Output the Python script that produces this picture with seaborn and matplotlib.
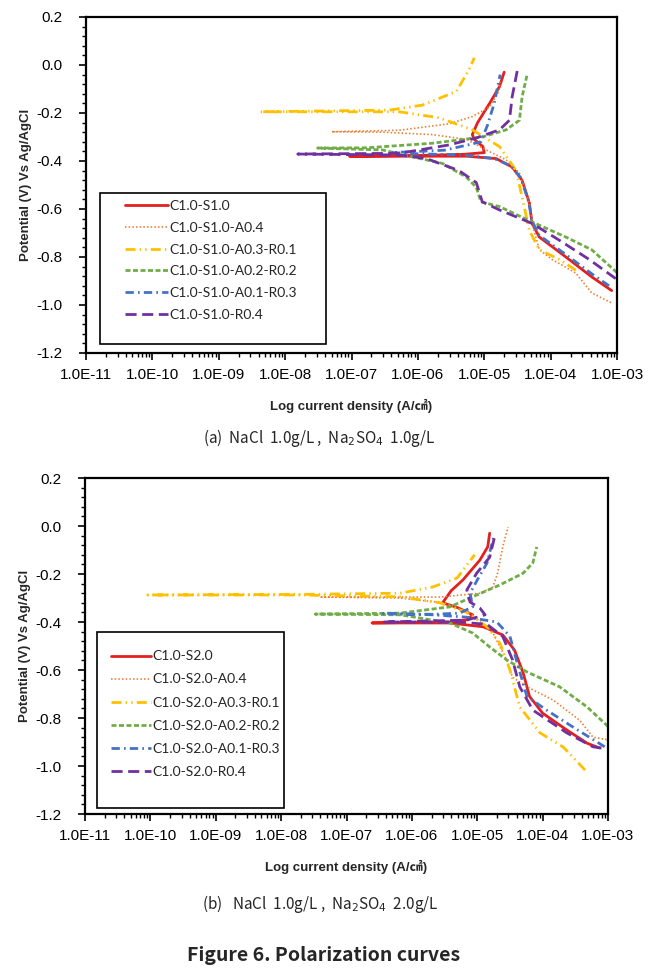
import numpy as np
import pandas as pd
import matplotlib
matplotlib.use("Agg")
import matplotlib.pyplot as plt
import matplotlib.ticker as mticker
from matplotlib.patches import Rectangle
import seaborn as sns

# Polarization curves: log10 of current density (A/cm2) and potential (V vs Ag/AgCl)
# each path runs from the cathodic end, through Ecorr, up the anodic branch

# (a) NaCl 1.0g/L, Na2SO4 1.0g/L
a_labels = ["C1.0-S1.0", "C1.0-S1.0-A0.4", "C1.0-S1.0-A0.3-R0.1",
            "C1.0-S1.0-A0.2-R0.2", "C1.0-S1.0-A0.1-R0.3", "C1.0-S1.0-R0.4"]

a_red_logi = [-3.08, -3.38, -3.77, -4.17, -4.28, -4.32, -4.43, -4.58, -4.82, -5.27, -6.28, -7.03,
              -6.0, -5.3, -5.0, -5.02, -5.15, -5.18, -5.10, -4.92, -4.77, -4.70]
a_red_pot = [-0.94, -0.883, -0.80, -0.717, -0.66, -0.575, -0.48, -0.425, -0.39, -0.38, -0.38, -0.38,
             -0.377, -0.372, -0.365, -0.34, -0.31, -0.29, -0.24, -0.16, -0.09, -0.03]

a_orange_logi = [-3.09, -3.38, -3.62, -3.98, -4.17, -4.25, -4.32, -4.47, -4.67, -4.97, -5.27, -5.78,
                 -6.53, -7.30, -6.28, -5.53, -5.18, -4.92, -4.78, -4.76]
a_orange_pot = [-0.99, -0.95, -0.867, -0.81, -0.77, -0.69, -0.575, -0.45, -0.395, -0.354, -0.31, -0.29,
                -0.28, -0.278, -0.272, -0.245, -0.215, -0.175, -0.11, -0.07]

a_yellow_logi = [-3.62, -3.87, -4.17, -4.32, -4.43, -4.52, -4.77, -5.18, -5.68, -6.28, -8.38,
                 -6.43, -5.93, -5.42, -5.23, -5.15]
a_yellow_pot = [-0.855, -0.81, -0.77, -0.69, -0.55, -0.44, -0.34, -0.27, -0.22, -0.195, -0.195,
                -0.188, -0.167, -0.11, -0.02, 0.03]

a_green_logi = [-3.00, -3.38, -3.77, -4.28, -4.77, -5.05, -5.12, -5.27, -5.63, -6.08, -6.53, -7.51,
                -6.77, -5.78, -5.03, -4.67, -4.47, -4.43, -4.35]
a_green_pot = [-0.865, -0.77, -0.717, -0.654, -0.59, -0.57, -0.51, -0.467, -0.41, -0.383, -0.354, -0.346,
               -0.345, -0.326, -0.30, -0.27, -0.23, -0.133, -0.035]

a_blue_logi = [-3.12, -3.38, -3.77, -4.17, -4.28, -4.33, -4.45, -4.6, -4.85, -5.3, -6.0, -6.4,
               -5.6, -5.2, -5.05, -4.95, -4.85, -4.76]
a_blue_pot = [-0.92, -0.87, -0.79, -0.71, -0.65, -0.57, -0.47, -0.42, -0.39, -0.375, -0.37, -0.365,
              -0.355, -0.33, -0.32, -0.25, -0.16, -0.04]

a_purple_logi = [-3.02, -3.42, -3.87, -4.28, -4.77, -5.03, -5.12, -5.38, -5.87, -6.28, -7.81,
                 -6.28, -5.53, -5.12, -4.77, -4.62, -4.58, -4.50]
a_purple_pot = [-0.89, -0.81, -0.73, -0.66, -0.604, -0.57, -0.49, -0.44, -0.39, -0.375, -0.371,
                -0.368, -0.333, -0.304, -0.27, -0.23, -0.133, -0.02]

# (b) NaCl 1.0g/L, Na2SO4 2.0g/L
b_labels = ["C1.0-S2.0", "C1.0-S2.0-A0.4", "C1.0-S2.0-A0.3-R0.1",
            "C1.0-S2.0-A0.2-R0.2", "C1.0-S2.0-A0.1-R0.3", "C1.0-S2.0-R0.4"]

b_red_logi = [-3.13, -3.32, -3.63, -4.00, -4.20, -4.30, -4.43, -4.61, -4.91, -5.42, -6.61,
              -5.42, -5.15, -5.07, -5.30, -5.53, -5.40, -5.22, -4.96, -4.84, -4.81]
b_red_pot = [-0.925, -0.905, -0.85, -0.78, -0.71, -0.61, -0.517, -0.454, -0.42, -0.404, -0.404,
             -0.400, -0.39, -0.37, -0.34, -0.32, -0.27, -0.225, -0.142, -0.087, -0.03]

b_orange_logi = [-3.02, -3.23, -3.43, -3.84, -4.24, -4.46, -4.55, -4.76, -5.11, -5.5, -6.2, -7.41,
                 -6.2, -5.57, -4.96, -4.76, -4.69, -4.61, -4.53]
b_orange_pot = [-0.89, -0.88, -0.81, -0.725, -0.67, -0.63, -0.558, -0.446, -0.363, -0.32, -0.30, -0.296,
                -0.296, -0.296, -0.28, -0.254, -0.197, -0.087, -0.004]

b_yellow_logi = [-3.35, -3.69, -4.04, -4.35, -4.50, -4.65, -4.85, -5.16, -5.57, -6.18, -7.71, -10.04,
                 -7.71, -6.18, -5.68, -5.31, -5.04]
b_yellow_pot = [-1.017, -0.92, -0.862, -0.754, -0.60, -0.49, -0.42, -0.36, -0.32, -0.295, -0.2875, -0.2875,
                -0.285, -0.28, -0.254, -0.217, -0.12]

b_green_logi = [-3.0, -3.32, -3.74, -4.24, -4.55, -4.81, -5.07, -5.42, -6.18, -7.48,
                -6.18, -5.42, -5.07, -4.65, -4.30, -4.15, -4.09]
b_green_pot = [-0.835, -0.754, -0.67, -0.608, -0.558, -0.504, -0.446, -0.404, -0.37, -0.367,
               -0.363, -0.337, -0.295, -0.245, -0.197, -0.154, -0.087]

b_blue_logi = [-3.05, -3.54, -3.94, -4.24, -4.39, -4.50, -4.70, -5.16, -5.68, -6.44,
               -5.68, -5.27, -5.07, -5.11, -5.0, -4.85, -4.76, -4.73]
b_blue_pot = [-0.92, -0.837, -0.767, -0.71, -0.57, -0.46, -0.40, -0.38, -0.37, -0.365,
              -0.368, -0.363, -0.337, -0.28, -0.225, -0.154, -0.058, -0.037]

b_purple_logi = [-3.10, -3.23, -3.63, -4.15, -4.35, -4.46, -4.61, -4.85, -5.27, -6.44,
                 -5.16, -4.88, -4.96, -5.11, -5.16, -5.01, -4.81, -4.73]
b_purple_pot = [-0.925, -0.92, -0.862, -0.767, -0.67, -0.558, -0.46, -0.41, -0.40, -0.40,
                -0.392, -0.37, -0.342, -0.317, -0.267, -0.197, -0.13, -0.04]

x_ticks_exp = [-11, -10, -9, -8, -7, -6, -5, -4, -3]
y_ticks = [0.2, 0.0, -0.2, -0.4, -0.6, -0.8, -1.0, -1.2]

# line look, same order as the legends
colors = ["#E3201E", "#ED7D31", "#FFC000", "#70AD47", "#4472C4", "#7030A0"]
widths = [2.0, 1.2, 2.0, 2.0, 2.0, 2.0]
styles = ["-", (0, (0.9, 1.3)), (0, (3.6, 1.5, 0.5, 1.5, 0.5, 1.5)), (0, (1.8, 0.9)),
          (0, (3.0, 1.5, 0.6, 1.5)), (0, (4.0, 2.0))]

sns.set_style("white")
plt.rcParams["font.family"] = ["Liberation Sans", "Noto Sans CJK KR", "DejaVu Sans"]
plt.rcParams["axes.unicode_minus"] = False

fig = plt.figure(figsize=(6.65, 9.71), dpi=100)
ax1 = fig.add_axes([86 / 665, 1 - 353 / 971, 531 / 665, 336 / 971])
ax2 = fig.add_axes([85 / 665, 1 - 814 / 971, 523 / 665, 336 / 971])

panels = [
    (ax1, a_labels,
     [(a_red_logi, a_red_pot), (a_orange_logi, a_orange_pot), (a_yellow_logi, a_yellow_pot),
      (a_green_logi, a_green_pot), (a_blue_logi, a_blue_pot), (a_purple_logi, a_purple_pot)]),
    (ax2, b_labels,
     [(b_red_logi, b_red_pot), (b_orange_logi, b_orange_pot), (b_yellow_logi, b_yellow_pot),
      (b_green_logi, b_green_pot), (b_blue_logi, b_blue_pot), (b_purple_logi, b_purple_pot)]),
]

for ax, labels, curves in panels:
    ax.set_xscale("log")
    for i, (logi, pot) in enumerate(curves):
        df = pd.DataFrame({"i": 10.0 ** np.array(logi), "E": pot})
        sns.lineplot(data=df, x="i", y="E", sort=False, estimator=None, ax=ax,
                     color=colors[i], linewidth=widths[i], linestyle=styles[i], label=labels[i])

    ax.set_xlim(1e-11, 1e-3)
    ax.set_ylim(-1.2, 0.2)
    ax.set_xticks([10.0 ** e for e in x_ticks_exp])
    ax.xaxis.set_major_formatter(mticker.FuncFormatter(lambda v, p: "1.0E-%02d" % round(-np.log10(v))))
    ax.xaxis.set_minor_locator(mticker.LogLocator(base=10, subs=np.arange(2, 10), numticks=20))
    ax.xaxis.set_minor_formatter(mticker.NullFormatter())
    ax.set_yticks(y_ticks)
    ax.yaxis.set_major_formatter(mticker.FormatStrFormatter("%.1f"))
    ax.yaxis.set_minor_locator(mticker.MultipleLocator(0.04))
    ax.tick_params(which="major", direction="out", length=5, width=1.2, labelsize=11, colors="black")
    ax.tick_params(which="minor", direction="out", length=3, width=1.0, colors="black")
    ax.tick_params(axis="x", which="both", bottom=True, pad=6)
    ax.tick_params(axis="y", which="both", left=True, pad=12)
    for s in ax.spines.values():
        s.set_color("black")
        s.set_linewidth(1.6)
    ax.set_xlabel("Log current density (A/㎠)", fontsize=9.5, fontweight="bold", labelpad=12)
    ax.set_ylabel("Potential (V) Vs Ag/AgCl", fontsize=9.5, fontweight="bold", labelpad=3)
    ax.get_legend().remove()

# legends: boxed on the lower left of each panel
legend_spots = [
    (ax1, (0.0264, 0.0268, 0.4256, 0.449), (0.074, 0.455), 0.70, 3.1),
    (ax2, (0.023, 0.018, 0.357, 0.524), (0.050, 0.487), 0.80, 2.9),
]
for ax, box, anchor, spacing, hlen in legend_spots:
    ax.add_patch(Rectangle(box[:2], box[2], box[3], transform=ax.transAxes, fill=True,
                           facecolor="white", edgecolor="black", linewidth=1.2, zorder=5))
    h, l = ax.get_legend_handles_labels()
    leg = ax.legend(h, l, loc="upper left", bbox_to_anchor=anchor, frameon=False,
                    borderpad=0, borderaxespad=0, handlelength=hlen, handletextpad=0.1,
                    labelspacing=spacing, prop={"family": "Lato", "size": 10})
    leg.set_zorder(6)

# captions
cap_font = ["Noto Sans CJK KR", "DejaVu Sans"]
fig.text(0.48, 1 - 438 / 971, "(a)  NaCl  1.0g/L ,  Na$_2$SO$_4$  1.0g/L", ha="center", va="center",
         fontsize=11, family=cap_font)
fig.text(0.482, 1 - 904 / 971, "(b)   NaCl  1.0g/L ,  Na$_2$SO$_4$  2.0g/L", ha="center", va="center",
         fontsize=11, family=cap_font)
fig.text(0.487, 1 - 955 / 971, "Figure 6. Polarization curves", ha="center", va="center",
         fontsize=14, fontweight="bold", family=cap_font)

plt.savefig("out.png", dpi=100)
